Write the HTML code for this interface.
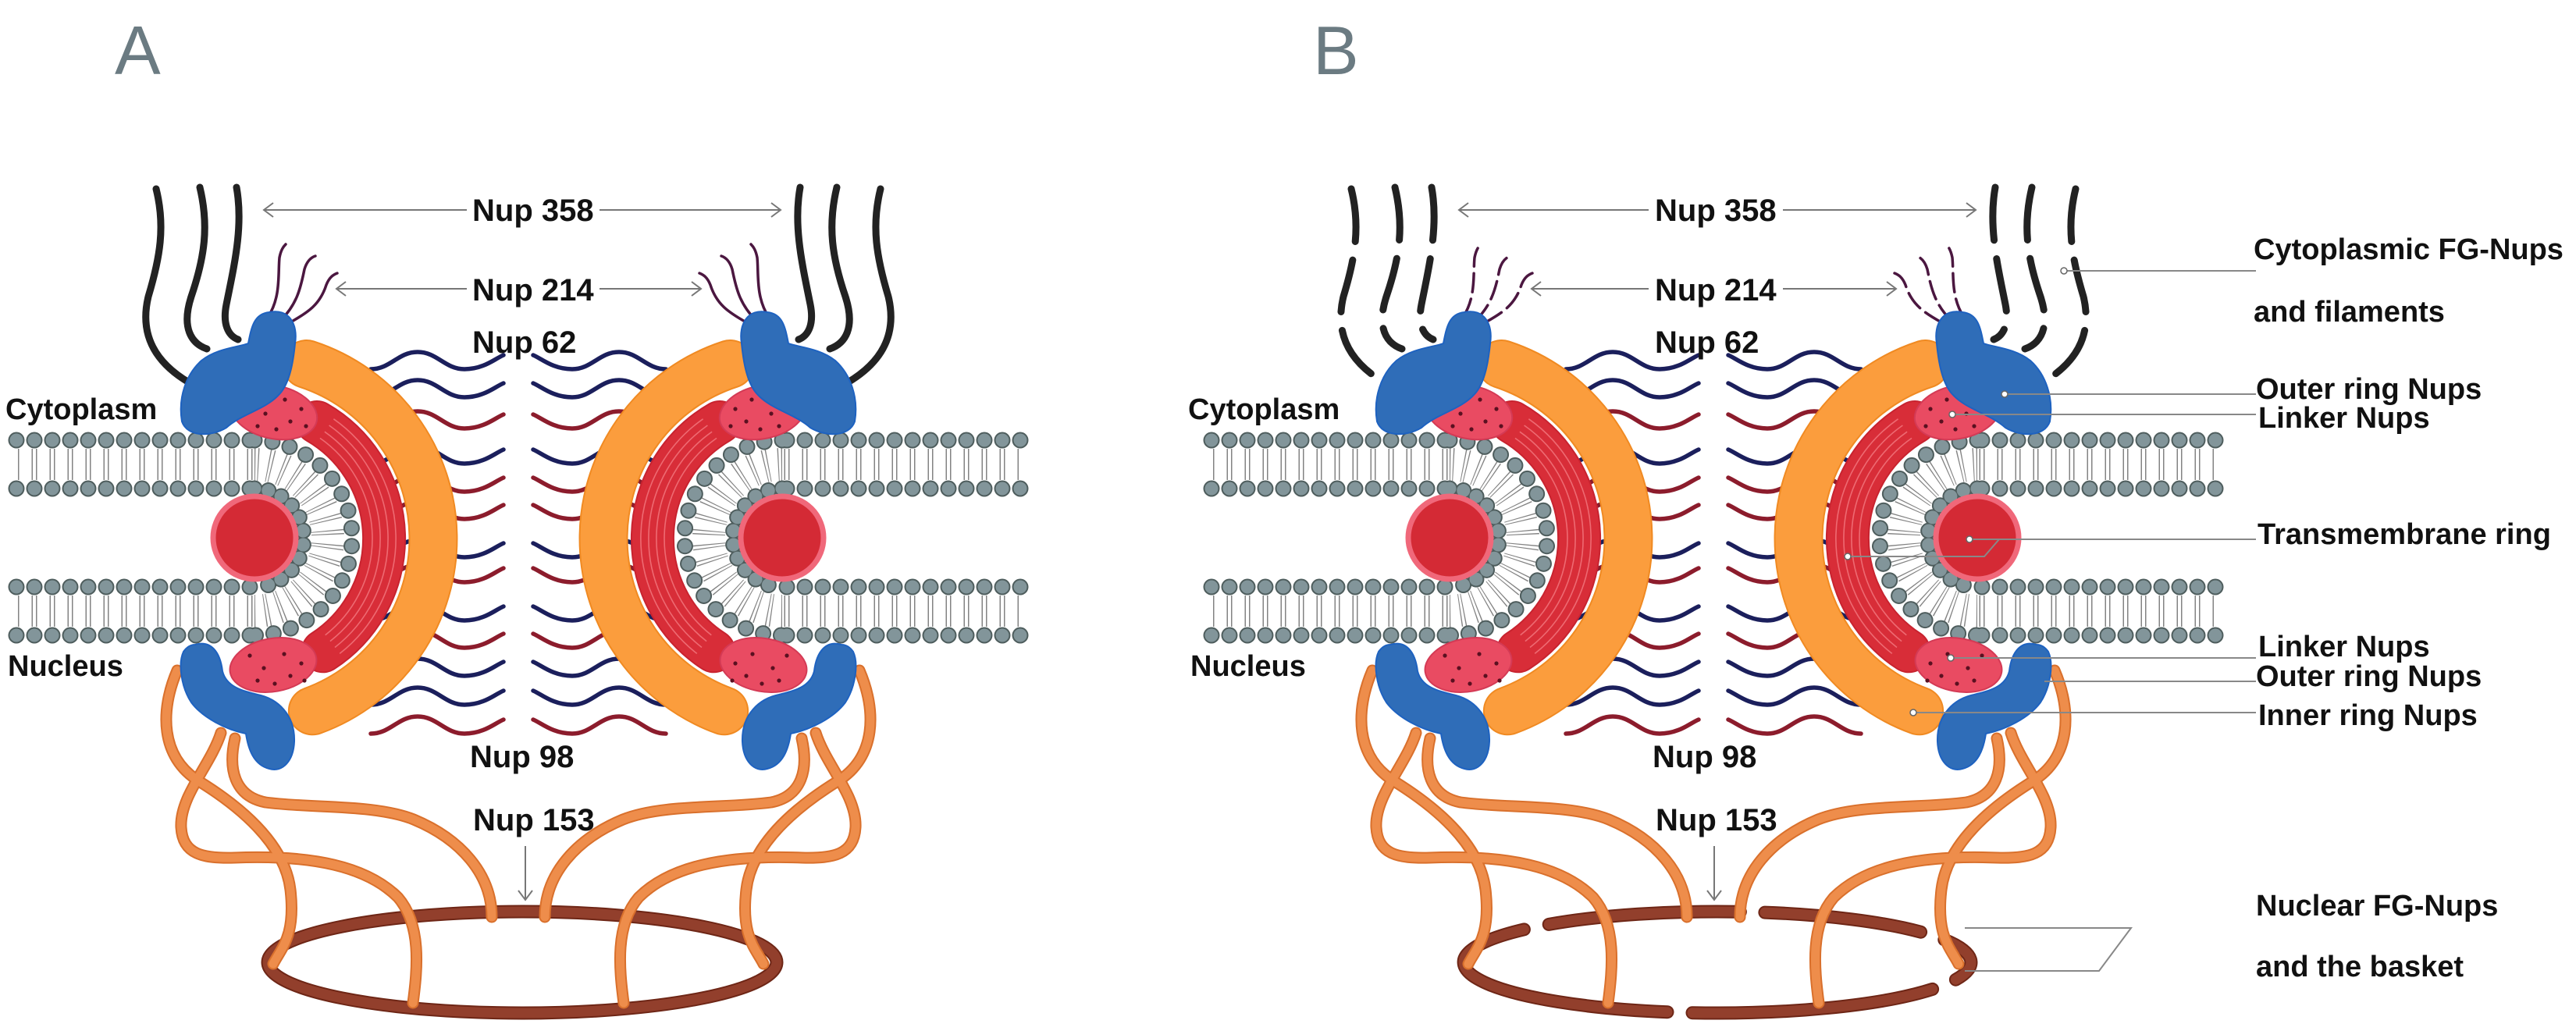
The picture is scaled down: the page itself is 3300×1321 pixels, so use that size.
<!DOCTYPE html>
<html><head><meta charset="utf-8"><style>
html,body{margin:0;padding:0;background:#fff;}
svg{display:block;}
text{font-family:"Liberation Sans",sans-serif;font-weight:bold;fill:#111;}
</style></head><body>
<svg width="3300" height="1321" viewBox="0 0 3300 1321" xmlns="http://www.w3.org/2000/svg">
<defs>
<path id="wv" d="M475 10 c25 0 35 -22 60 -22 s35 22 60 22 s40 -14 50 -18" fill="none" stroke-width="5.5" stroke-linecap="round"/>
<g id="half">
  <g stroke="#1b1f5c"><use href="#wv" y="463"/><use href="#wv" y="499"/><use href="#wv" y="584"/><use href="#wv" y="704"/><use href="#wv" y="785"/><use href="#wv" y="856"/><use href="#wv" y="893"/></g>
  <g stroke="#8c1c2c"><use href="#wv" y="539"/><use href="#wv" y="620"/><use href="#wv" y="655"/><use href="#wv" y="736"/><use href="#wv" y="820"/><use href="#wv" y="930"/></g>
  <g fill="none" stroke-linecap="round">
    <g stroke="#d9702c" stroke-width="15">
      <path d="M227 859 C205 910 205 970 255 1001 S365 1080 372 1140 S360 1215 350 1235"/>
      <path d="M283 939 C270 980 230 1020 232 1060 C234 1095 260 1100 300 1099 C400 1095 470 1110 510 1150 C540 1185 535 1240 529 1285"/>
      <path d="M301 946 C292 985 300 1020 340 1028 C400 1036 480 1030 530 1050 C590 1075 630 1120 630 1175"/>
    </g>
    <g stroke="#ee8d4b" stroke-width="11">
      <path d="M227 859 C205 910 205 970 255 1001 S365 1080 372 1140 S360 1215 350 1235"/>
      <path d="M283 939 C270 980 230 1020 232 1060 C234 1095 260 1100 300 1099 C400 1095 470 1110 510 1150 C540 1185 535 1240 529 1285"/>
      <path d="M301 946 C292 985 300 1020 340 1028 C400 1036 480 1030 530 1050 C590 1075 630 1120 630 1175"/>
    </g>
  </g>
  <g fill="none" stroke="#5a5a5a" stroke-opacity="0.75">
    <path d="M21 595 H326" stroke-width="40" stroke-dasharray="1.5 4 1.5 16" stroke-dashoffset="3.5"/>
    <path d="M21 783 H326" stroke-width="40" stroke-dasharray="1.5 4 1.5 16" stroke-dashoffset="3.5"/>
    <path d="M326 595 A94 94 0 0 1 326 783" stroke-width="42" stroke-dasharray="1.2 3 1.2 11.9"/>
  </g>
  <g fill="none" stroke-linecap="round">
    <g stroke="#4e5d5d" stroke-width="21">
      <path d="M21 564 H326" stroke-dasharray="0 23"/><path d="M21 626 H326" stroke-dasharray="0 23"/>
      <path d="M21 752 H326" stroke-dasharray="0 23"/><path d="M21 814 H326" stroke-dasharray="0 23"/>
      <path d="M326 564 A125 125 0 0 1 326 814" stroke-dasharray="0 23"/>
      <path d="M326 626 A63 63 0 0 1 326 752" stroke-dasharray="0 18"/>
    </g>
    <g stroke="#82959a" stroke-width="17">
      <path d="M21 564 H326" stroke-dasharray="0 23"/><path d="M21 626 H326" stroke-dasharray="0 23"/>
      <path d="M21 752 H326" stroke-dasharray="0 23"/><path d="M21 814 H326" stroke-dasharray="0 23"/>
      <path d="M326 564 A125 125 0 0 1 326 814" stroke-dasharray="0 23"/>
      <path d="M326 626 A63 63 0 0 1 326 752" stroke-dasharray="0 18"/>
    </g>
  </g>
  <circle cx="326" cy="689" r="53" fill="#d42a35" stroke="#f0687a" stroke-width="7"/>
  <path d="M406 541 A172 172 0 0 1 413.7 834.3" fill="none" stroke="#c8232f" stroke-width="56" stroke-linecap="round"/>
  <path d="M406 541 A172 172 0 0 1 413.7 834.3" fill="none" stroke="#d82d38" stroke-width="52" stroke-linecap="round"/>
  <g fill="none" stroke="#ee6a72" stroke-width="1.6">
    <path d="M410 561.4 A157 157 0 0 1 416.7 813.7"/>
    <path d="M415.9 553.2 A167 167 0 0 1 422.9 821.6"/>
    <path d="M421.6 545 A177 177 0 0 1 429 829.5"/>
    <path d="M427.4 536.8 A187 187 0 0 1 435.2 837.4"/>
  </g>
  <path d="M392.6 466.5 A235 235 0 0 1 400.4 910.8" fill="none" stroke="#f08a22" stroke-width="63" stroke-linecap="round"/>
  <path d="M392.6 466.5 A235 235 0 0 1 400.4 910.8" fill="none" stroke="#fb9d3d" stroke-width="59" stroke-linecap="round"/>
  <ellipse cx="351" cy="528" rx="56" ry="34" transform="rotate(12 351 528)" fill="#e94b62" stroke="#d43a55" stroke-width="2"/>
  <ellipse cx="350" cy="852" rx="56" ry="34" transform="rotate(-10 350 852)" fill="#e94b62" stroke="#d43a55" stroke-width="2"/>
  <g fill="#5a1020">
    <circle cx="322" cy="515" r="2.6"/><circle cx="340" cy="530" r="2.6"/><circle cx="330" cy="546" r="2.6"/><circle cx="365" cy="512" r="2.6"/><circle cx="372" cy="540" r="2.6"/><circle cx="386" cy="524" r="2.6"/><circle cx="354" cy="550" r="2.6"/><circle cx="392" cy="546" r="2.6"/>
    <circle cx="320" cy="840" r="2.6"/><circle cx="338" cy="856" r="2.6"/><circle cx="330" cy="872" r="2.6"/><circle cx="364" cy="838" r="2.6"/><circle cx="372" cy="866" r="2.6"/><circle cx="386" cy="850" r="2.6"/><circle cx="352" cy="876" r="2.6"/><circle cx="390" cy="872" r="2.6"/>
  </g>
  <path d="M345 400 C370 395 382 415 378 440 C376 460 372 490 358 505 C340 525 310 530 290 548 C270 560 240 560 233 540 C228 510 238 480 258 462 C278 446 305 445 318 440 C322 420 325 402 345 400 Z" fill="#2f6db8" stroke="#1e62c0" stroke-width="2"/>
  <path d="M250 826 C270 820 282 835 285 860 C290 880 310 885 330 890 C355 895 378 915 377 950 C376 975 362 990 345 985 C325 980 318 960 315 940 C290 935 260 920 245 900 C232 880 228 850 235 835 C240 828 245 826 250 826 Z" fill="#2f6db8" stroke="#1e62c0" stroke-width="2"/>
</g>
<g id="filA" fill="none" stroke-linecap="round">
  <g stroke="#222" stroke-width="9">
    <path d="M200 242 C212 290 205 330 190 380 C178 430 200 465 242 490"/>
    <path d="M256 240 C268 290 262 330 245 380 C232 420 245 440 265 447"/>
    <path d="M303 240 C312 290 300 340 290 390 C285 415 292 430 305 435"/>
  </g>
  <g stroke="#4b1740" stroke-width="3.5">
    <path d="M344 405 C360 380 356 350 358 330 C360 320 363 316 366 313"/>
    <path d="M360 410 C380 390 385 370 390 345 C393 335 398 330 404 328"/>
    <path d="M372 413 C395 400 410 390 418 365 C422 355 427 352 432 350"/>
  </g>
</g>
<g id="filB" fill="none" stroke-linecap="round">
  <g stroke="#222" stroke-width="9" stroke-dasharray="68 24">
    <path d="M200 242 C212 290 205 330 190 380 C178 430 200 465 242 490"/>
    <path d="M256 240 C268 290 262 330 245 380 C232 420 245 440 265 447"/>
    <path d="M303 240 C312 290 300 340 290 390 C285 415 292 430 305 435"/>
  </g>
  <g stroke="#4b1740" stroke-width="3.5" stroke-dasharray="24 9">
    <path d="M344 405 C360 380 356 350 358 330 C360 320 363 316 366 313"/>
    <path d="M360 410 C380 390 385 370 390 345 C393 335 398 330 404 328"/>
    <path d="M372 413 C395 400 410 390 418 365 C422 355 427 352 432 350"/>
  </g>
</g>
</defs>

<text x="147" y="95" font-size="88" style="font-weight:normal;fill:#6b7b82">A</text>
<text x="1682" y="95" font-size="88" style="font-weight:normal;fill:#6b7b82">B</text>

<ellipse cx="669" cy="1233" rx="326" ry="65" fill="none" stroke="#6e2616" stroke-width="17"/>
<ellipse cx="669" cy="1233" rx="326" ry="65" fill="none" stroke="#923f2c" stroke-width="13"/>
<use href="#filA"/>
<use href="#filA" transform="translate(1328,0) scale(-1,1)"/>
<use href="#half"/>
<use href="#half" transform="translate(1328,0) scale(-1,1)"/>

<g stroke="#777" stroke-width="2" fill="none">
  <path d="M338 269 H598 M768 269 H1000"/>
  <path d="M350 260 L338 269 L350 278 M988 260 L1000 269 L988 278"/>
  <path d="M431 370 H598 M768 370 H898"/>
  <path d="M443 361 L431 370 L443 379 M886 361 L898 370 L886 379"/>
  <path d="M673 1084 V1153 M664 1141 L673 1153 L682 1141"/>
</g>
<text x="605" y="283" font-size="40">Nup 358</text>
<text x="605" y="385" font-size="40">Nup 214</text>
<text x="605" y="452" font-size="40">Nup 62</text>
<text x="602" y="983" font-size="40">Nup 98</text>
<text x="606" y="1064" font-size="40">Nup 153</text>
<text x="7" y="537" font-size="38">Cytoplasm</text>
<text x="10" y="866" font-size="38">Nucleus</text>

<g fill="none" stroke-linecap="round">
  <g stroke="#6e2616" stroke-width="17">
    <path d="M2475.6 1267.4 A325 65 0 0 1 2168 1297.7"/>
    <path d="M2136 1296.7 A325 65 0 0 1 1952.4 1190.9"/>
    <path d="M1984.2 1184.4 A325 65 0 0 1 2229.4 1168.3"/>
    <path d="M2260.9 1169.1 A325 65 0 0 1 2460.6 1194.2"/>
    <path d="M2490.8 1204 A325 65 0 0 1 2505.4 1255.2"/>
  </g>
  <g stroke="#923f2c" stroke-width="13">
    <path d="M2475.6 1267.4 A325 65 0 0 1 2168 1297.7"/>
    <path d="M2136 1296.7 A325 65 0 0 1 1952.4 1190.9"/>
    <path d="M1984.2 1184.4 A325 65 0 0 1 2229.4 1168.3"/>
    <path d="M2260.9 1169.1 A325 65 0 0 1 2460.6 1194.2"/>
    <path d="M2490.8 1204 A325 65 0 0 1 2505.4 1255.2"/>
  </g>
</g>
<g transform="translate(1531,0)">
  <use href="#filB"/>
  <use href="#filB" transform="translate(1328,0) scale(-1,1)"/>
  <use href="#half"/>
  <use href="#half" transform="translate(1328,0) scale(-1,1)"/>
</g>
<g stroke="#777" stroke-width="2" fill="none">
  <path d="M1869 269 H2112 M2284 269 H2531"/>
  <path d="M1881 260 L1869 269 L1881 278 M2519 260 L2531 269 L2519 278"/>
  <path d="M1962 370 H2112 M2284 370 H2429"/>
  <path d="M1974 361 L1962 370 L1974 379 M2417 361 L2429 370 L2417 379"/>
  <path d="M2196 1084 V1153 M2187 1141 L2196 1153 L2205 1141"/>
</g>
<text x="2120" y="283" font-size="40">Nup 358</text>
<text x="2120" y="385" font-size="40">Nup 214</text>
<text x="2120" y="452" font-size="40">Nup 62</text>
<text x="2117" y="983" font-size="40">Nup 98</text>
<text x="2121" y="1064" font-size="40">Nup 153</text>
<text x="1522" y="537" font-size="38">Cytoplasm</text>
<text x="1525" y="866" font-size="38">Nucleus</text>

<g stroke="#888" stroke-width="2" fill="none">
  <path d="M2644 347 H2890"/>
  <path d="M2568 505 H2890"/>
  <path d="M2501 531 H2890"/>
  <path d="M2523 691 H2890"/>
  <path d="M2367 713 H2542 L2561 691"/>
  <path d="M2499 843 H2890"/>
  <path d="M2619 873 H2890"/>
  <path d="M2451 913 H2890"/>
  <path d="M2517 1189 H2730 L2689 1244 H2517"/>
</g>
<g fill="#fff" stroke="#666" stroke-width="1.5">
  <circle cx="2644" cy="347" r="4"/><circle cx="2568" cy="505" r="4"/><circle cx="2501" cy="531" r="4"/>
  <circle cx="2523" cy="691" r="4"/><circle cx="2367" cy="713" r="4"/><circle cx="2499" cy="843" r="4"/>
  <circle cx="2451" cy="913" r="4"/>
</g>
<g font-size="38">
<text x="2887" y="332">Cytoplasmic FG-Nups</text>
<text x="2887" y="412">and filaments</text>
<text x="2890" y="511">Outer ring Nups</text>
<text x="2893" y="548">Linker Nups</text>
<text x="2892" y="697">Transmembrane ring</text>
<text x="2893" y="841">Linker Nups</text>
<text x="2890" y="879">Outer ring Nups</text>
<text x="2893" y="929">Inner ring Nups</text>
<text x="2890" y="1173">Nuclear FG-Nups</text>
<text x="2890" y="1251">and the basket</text>
</g>
</svg>
</body></html>
